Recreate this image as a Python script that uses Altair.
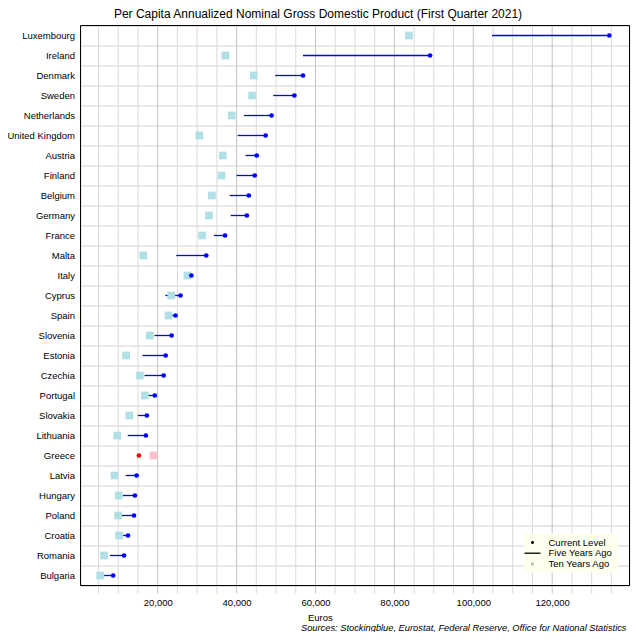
import altair as alt
import pandas as pd

countries = ["Luxembourg", "Ireland", "Denmark", "Sweden", "Netherlands", "United Kingdom",
             "Austria", "Finland", "Belgium", "Germany", "France", "Malta", "Italy", "Cyprus",
             "Spain", "Slovenia", "Estonia", "Czechia", "Portugal", "Slovakia", "Lithuania",
             "Greece", "Latvia", "Hungary", "Poland", "Croatia", "Romania", "Bulgaria"]
current = [134470, 89040, 56830, 54650, 48870, 47360, 45110, 44600, 43100, 42600, 37080,
           32310, 28540, 25780, 24520, 23530, 22020, 21510, 19260, 17250, 17000, 15240,
           14660, 14230, 13980, 12470, 11470, 8710]
five_years_ago = [104770, 56830, 49800, 49300, 41840, 40260, 42270, 40010, 38250, 38500, 34240,
                  24700, 27000, 21940, 23200, 19180, 16160, 16670, 17250, 14990, 12400, 15240,
                  11900, 11140, 10890, 10390, 7880, 6300]
ten_years_ago = [83690, 37170, 44360, 43950, 38750, 30550, 36500, 36170, 33730, 32980, 31300,
                 16340, 27540, 23440, 22770, 18000, 11980, 15490, 16740, 12820, 9720, 18930,
                 9060, 10140, 9970, 10220, 6380, 5450]
legend_items = ["Current Level", "Five Years Ago", "Ten Years Ago"]
x_grid_values = list(range(5000, 140000, 5000))
x_label_values = [20000, 40000, 60000, 80000, 100000, 120000]

title_text = "Per Capita Annualized Nominal Gross Domestic Product (First Quarter 2021)"
sources_text = "Sources: Stockingblue, Eurostat, Federal Reserve, Office for National Statistics"

df = pd.DataFrame({"country": countries, "current": current,
                   "five": five_years_ago, "ten": ten_years_ago})
leg = pd.DataFrame({"item": legend_items})
grid_df = pd.DataFrame({"v": x_grid_values})
one = pd.DataFrame({"k": [0]})

FONT = "Liberation Sans"
W, H = 549, 560

xscale = alt.Scale(domain=[430, 139600], nice=False, zero=False)
yscale = alt.Scale(domain=countries, paddingInner=0, paddingOuter=0)

xaxis = alt.Axis(values=x_label_values, format=",d", grid=False, ticks=False, domain=False,
                 labelFont=FONT, labelFontSize=9.5, labelColor="black", labelPadding=12,
                 labelOverlap=False, labelFlush=False,
                 title="Euros", titleFont=FONT, titleFontSize=9.5, titleFontWeight="normal",
                 titleColor="black", titleAlign="left", titleAnchor="start",
                 titleX=227, titleY=35, titleBaseline="alphabetic")
yaxis = alt.Axis(grid=True, gridColor="#d0d0d0", ticks=False, domain=False,
                 tickBand="extent", labelFont=FONT, labelFontSize=9.5, labelColor="black",
                 labelPadding=6, title=None)

# vertical grid lines (every 5,000) that continue below the plot as tick marks
vgrid = alt.Chart(grid_df).mark_rule(strokeWidth=1).encode(
    x=alt.X("v:Q", scale=xscale, axis=xaxis),
    y=alt.value(0), y2=alt.value(H + 8),
    color=alt.condition("datum.v % 20000 == 0", alt.value("#c4c4c4"), alt.value("#dadada")),
)

base = alt.Chart(df)

lines = base.mark_rule(color="#0000ff", strokeWidth=1.3).encode(
    x=alt.X("five:Q", scale=xscale),
    x2="current:Q",
    y=alt.Y("country:N", scale=yscale, axis=yaxis, sort=countries),
)

squares = base.mark_square(size=60, opacity=1, filled=True).encode(
    x=alt.X("ten:Q", scale=xscale),
    y=alt.Y("country:N", scale=yscale, sort=countries),
    color=alt.condition("datum.current < datum.ten", alt.value("#ffc0cb"), alt.value("#b0e0e6")),
)

dots = base.mark_circle(size=22, opacity=1).encode(
    x=alt.X("current:Q", scale=xscale),
    y=alt.Y("country:N", scale=yscale, sort=countries),
    color=alt.condition("datum.current < datum.ten", alt.value("#ff0000"), alt.value("#0000ff")),
)

shape_range = [
    "M-0.3,0A0.3,0.3 0 1,0 0.3,0A0.3,0.3 0 1,0 -0.3,0Z",
    "M-1.6,-0.13H1.6V0.13H-1.6Z",
    "M-0.3,-0.3H0.3V0.3H-0.3Z",
]

legend_layer = alt.Chart(leg).mark_point(filled=True, opacity=0).encode(
    shape=alt.Shape("item:N", scale=alt.Scale(domain=legend_items, range=shape_range),
                    legend=alt.Legend(title=None, orient="none", legendX=443, legendY=508,
                                      fillColor="#ffffee", padding=4, symbolSize=100,
                                      symbolOpacity=1, symbolStrokeWidth=0, labelOffset=11,
                                      rowPadding=0.7, labelFont=FONT, labelFontSize=9.5,
                                      labelColor="black")),
    color=alt.Color("item:N", scale=alt.Scale(domain=legend_items,
                                               range=["black", "black", "#c0c0c0"])),
)

frame = alt.Chart(one).mark_rect(filled=False, stroke="black", strokeWidth=1).encode(
    x=alt.value(0), x2=alt.value(W), y=alt.value(0), y2=alt.value(H)
)

title = alt.Chart(one).mark_text(text=title_text, font=FONT, fontSize=12, align="center",
                                 baseline="alphabetic", color="black").encode(
    x=alt.value(W / 2 - 37), y=alt.value(-7.5)
)

sources = alt.Chart(one).mark_text(text=sources_text, font=FONT, fontSize=9.3,
                                   fontStyle="italic", align="right", baseline="alphabetic",
                                   color="black").encode(
    x=alt.value(546), y=alt.value(H + 45)
)

chart = alt.layer(vgrid, lines, squares, dots, legend_layer, frame, title, sources).properties(
    width=W, height=H,
    autosize=alt.AutoSizeParams(type="none"),
    padding={"left": 72.5, "top": 17.5, "right": 2.5, "bottom": 46.5},
).configure_view(stroke="black", strokeWidth=1).configure(background="white")

chart.save("out.html", embed_options={"renderer": "svg", "actions": False})
